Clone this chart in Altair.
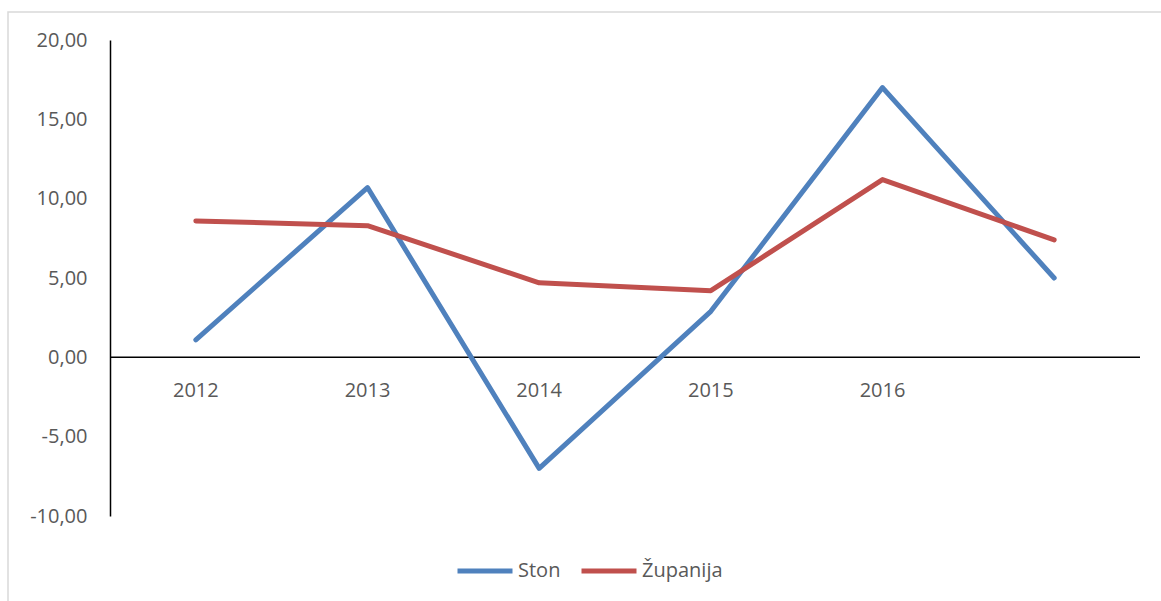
import altair as alt
import pandas as pd

years = [2012, 2013, 2014, 2015, 2016, 2017]
year_labels = ["2012", "2013", "2014", "2015", "2016", ""]
ston = [1.1, 10.7, -7.0, 2.9, 17.0, 5.0]
zupanija = [8.6, 8.3, 4.7, 4.2, 11.2, 7.4]
series_names = ["Ston", "Županija"]
series_colors = ["#4F81BD", "#C0504D"]
y_ticks = [-10, -5, 0, 5, 10, 15, 20]

FONT = "Open Sans"
GRAY = "#595959"

rows = []
for name, vals in zip(series_names, [ston, zupanija]):
    for y, v in zip(years, vals):
        rows.append({"year": y, "series": name, "value": v})
df = pd.DataFrame(rows)
lab_df = pd.DataFrame({"year": years, "label": year_labels, "zero": [0] * len(years)})
one = pd.DataFrame({"a": [0]})

xenc = alt.X("year:O", axis=None, scale=alt.Scale(padding=0.5))
yscale = alt.Scale(domain=[-10, 20], nice=False, zero=False)

frame = alt.Chart(one).mark_rect(fill="transparent", stroke="#D9D9D9", strokeWidth=1.5).encode(
    x=alt.value(-102), x2=alt.value(1100), y=alt.value(-28), y2=alt.value(600)
)

zero_rule = alt.Chart(one).mark_rule(color="black", strokeWidth=1.5).encode(
    x=alt.value(0), x2=alt.value(1030), y=alt.datum(0, scale=yscale, type="quantitative")
)

lines = alt.Chart(df).mark_line(strokeWidth=5, strokeCap="round", strokeJoin="round").encode(
    x=xenc,
    y=alt.Y(
        "value:Q",
        scale=yscale,
        axis=alt.Axis(
            values=y_ticks,
            grid=False,
            ticks=False,
            domain=True,
            domainColor="black",
            domainWidth=1.5,
            labelPadding=23,
            labelFont=FONT,
            labelFontSize=20,
            labelColor=GRAY,
            labelExpr="replace(replace(format(datum.value, '.2f'), '.', ','), '\u2212', '-')",
            title=None,
            zindex=1,
        ),
    ),
    color=alt.Color(
        "series:N",
        scale=alt.Scale(domain=series_names, range=series_colors),
        legend=alt.Legend(
            title=None,
            orient="none",
            direction="horizontal",
            legendX=345,
            legendY=501,
            symbolType="stroke",
            symbolSize=3025,
            symbolStrokeWidth=5,
            labelFont=FONT,
            labelFontSize=20,
            labelColor=GRAY,
            labelOffset=3,
            columnPadding=10,
            padding=0,
        ),
    ),
)

labels = alt.Chart(lab_df).mark_text(
    font=FONT, fontSize=20, color=GRAY, baseline="middle", dy=34
).encode(
    x=xenc,
    y=alt.Y("zero:Q", scale=yscale),
    text="label:N",
)

chart = alt.layer(frame, zero_rule, lines, labels).properties(
    width=1030,
    height=476,
    background="white",
    autosize=alt.AutoSizeParams(type="none"),
    padding={"left": 110, "top": 40, "right": 21, "bottom": 85},
).configure_view(stroke=None, strokeWidth=0)

chart.save("out.html", embed_options={"renderer": "svg", "actions": False})
